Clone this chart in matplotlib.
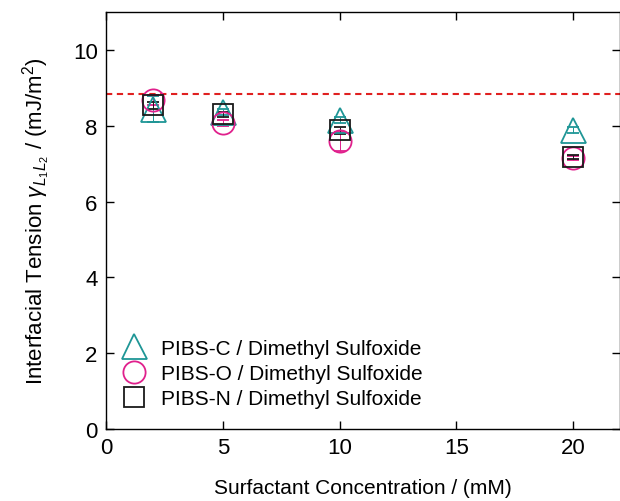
import matplotlib
matplotlib.use('Agg')
import matplotlib.pyplot as plt

plt.rcParams['font.family'] = ['Liberation Sans', 'DejaVu Sans']
plt.rcParams['mathtext.fontset'] = 'custom'
plt.rcParams['mathtext.rm'] = 'Liberation Sans'
plt.rcParams['mathtext.it'] = 'Liberation Sans:italic'

conc = [2, 5, 10, 20]

pibs_c = [8.44, 8.36, 8.15, 7.90]
pibs_c_err = [0.35, 0.08, 0.08, 0.08]
pibs_o = [8.68, 8.07, 7.59, 7.15]
pibs_o_err = [0.12, 0.08, 0.25, 0.06]
pibs_n = [8.54, 8.30, 7.88, 7.17]
pibs_n_err = [0.10, 0.06, 0.10, 0.05]

reference_value = 8.85

labels = ['PIBS-C / Dimethyl Sulfoxide',
          'PIBS-O / Dimethyl Sulfoxide',
          'PIBS-N / Dimethyl Sulfoxide']

fig = plt.figure(figsize=(6.2, 5.02), dpi=100)
ax = fig.add_axes([0.171, 0.1434, 0.829, 0.8306])

ax.axhline(reference_value, color='#e02020', linestyle=(0, (3, 2.2)), linewidth=1.5, zorder=1)

ax.errorbar(conc, pibs_c, yerr=pibs_c_err, fmt='^', ms=18, mfc='none', mec='#1f9696',
            mew=1.3, ecolor='#1f9696', elinewidth=0.7, capsize=4, capthick=0.7, label=labels[0])
ax.errorbar(conc, pibs_o, yerr=pibs_o_err, fmt='o', ms=16, mfc='none', mec='#e0208c',
            mew=1.3, ecolor='#e0208c', elinewidth=0.7, capsize=4, capthick=0.7, label=labels[1])
ax.errorbar(conc, pibs_n, yerr=pibs_n_err, fmt='s', ms=14, mfc='none', mec='#1a1a1a',
            mew=1.3, ecolor='#1a1a1a', elinewidth=0.7, capsize=4, capthick=0.7, label=labels[2])

ax.set_xlim(0, 22)
ax.set_ylim(0, 11)
ax.set_xticks([0, 5, 10, 15, 20])
ax.set_yticks([0, 2, 4, 6, 8, 10])
ax.tick_params(direction='in', length=6, width=1, top=True, right=True, labelsize=16, pad=6)
for s in ax.spines.values():
    s.set_linewidth(1)

ax.set_xlabel('Surfactant Concentration / (mM)', fontsize=15, labelpad=14)
ax.set_ylabel(r'Interfacial Tension $\gamma_{L_1L_2}$ / (mJ/m$^2$)', fontsize=16, labelpad=14)

handles, lbls = ax.get_legend_handles_labels()
handles = [h[0] for h in handles]
ax.legend(handles, lbls, loc='lower left', frameon=False, fontsize=15,
          handletextpad=0.3, labelspacing=0.3, borderaxespad=0.3,
          bbox_to_anchor=(-0.015, 0.015))

fig.savefig('out.png', dpi=100)
